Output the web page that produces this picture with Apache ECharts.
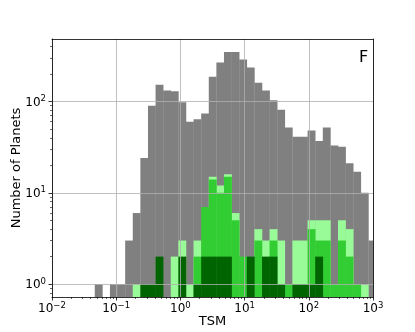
<!DOCTYPE html>
<html>
<head>
<meta charset="utf-8">
<script src="https://cdn.jsdelivr.net/npm/echarts@6/dist/echarts.min.js"></script>
<style>
  html, body { margin: 0; padding: 0; background: #fff; }
  #chart { width: 415px; height: 332px; }
</style>
</head>
<body>
<div id="chart"></div>
<script>
// histogram bins, log10 spaced
const binLogStart = -1.334
const binLogWidth = 0.1184

// counts per bin
const grayCounts  = [1, 0, 1, 1, 3, 6, 24, 90, 152, 132, 129, 98, 60, 64, 74, 186, 267, 349, 349, 288, 235, 160, 132, 103, 81, 52, 41, 41, 48, 37, 52, 33, 32, 21, 17, 10, 3]
const lightCounts = [0, 0, 0, 0, 0, 1, 0, 0, 0, 0, 2, 3, 1, 3, 0, 15, 12, 16, 6, 0, 0, 4, 3, 4, 3, 0, 3, 3, 5, 5, 5, 0, 5, 4, 0, 1, 0]
const limeCounts  = [0, 0, 0, 0, 0, 0, 0, 0, 0, 0, 0, 0, 0, 2, 7, 14, 10, 15, 5, 2, 0, 3, 0, 3, 0, 1, 0, 0, 4, 3, 3, 1, 3, 2, 1, 0, 0]
const darkCounts  = [0, 0, 0, 0, 0, 0, 1, 1, 2, 0, 0, 2, 0, 1, 2, 2, 2, 2, 0, 0, 2, 0, 2, 2, 1, 0, 1, 1, 1, 2, 0, 0, 0, 0, 0, 0, 0]

const xTicks = [0.01, 0.1, 1, 10, 100, 1000]
const yTicks = [1, 10, 100]
const xMin = 0.01, xMax = 1000
const yMin = 0.7225, yMax = 483

const binEdges = []
for (let k = 0; k <= grayCounts.length; k++) {
  binEdges.push(Math.pow(10, binLogStart + k * binLogWidth))
}

function minorTicks(lo, hi) {
  const out = []
  for (let e = -3; e <= 3; e++) {
    for (let m = 2; m <= 9; m++) {
      const v = m * Math.pow(10, e)
      if (v > lo && v < hi) out.push(v)
    }
  }
  return out
}

function powLabel(value) {
  const e = Math.round(Math.log10(value))
  if (Math.abs(Math.log10(value) - e) > 1e-6) return ''
  return '{b|10}{s|' + (e < 0 ? '\u2212' + (-e) : e) + '}'
}

const labelRich = {
  b: { fontSize: 12, lineHeight: 14, verticalAlign: 'bottom', color: '#000', fontFamily: 'DejaVu Sans' },
  s: { fontSize: 8.5, lineHeight: 8, verticalAlign: 'top', color: '#000', fontFamily: 'DejaVu Sans' }
}

function histSeries(name, counts, color, z) {
  const data = []
  counts.forEach((c, k) => {
    if (c > 0) data.push([binEdges[k], binEdges[k + 1], c])
  })
  return {
    name: name,
    type: 'custom',
    z: z,
    data: data,
    encode: { x: [0, 1], y: 2 },
    renderItem(params, api) {
      const cs = params.coordSys
      const top = api.coord([api.value(0), api.value(2)])
      const bottom = api.coord([api.value(1), yMin])
      const x0 = Math.max(top[0], cs.x)
      const x1 = Math.min(bottom[0] + 0.3, cs.x + cs.width)
      return {
        type: 'rect',
        shape: { x: x0, y: top[1], width: x1 - x0, height: bottom[1] - top[1] },
        style: { fill: color }
      }
    }
  }
}

const chart = echarts.init(document.getElementById('chart'))

chart.setOption({
  animation: false,
  textStyle: { fontFamily: 'DejaVu Sans' },
  grid: { left: 52, right: 42, top: 39, bottom: 35, outerBoundsMode: 'none' },
  graphic: [{
    type: 'text',
    left: 359,
    top: 50,
    style: { text: 'F', fontSize: 16, fill: '#000', fontFamily: 'DejaVu Sans' }
  }],
  xAxis: [{
    type: 'log', logBase: 10, min: xMin, max: xMax, z: 10,
    name: 'TSM', nameLocation: 'middle', nameGap: 18, nameMoveOverlap: false,
    nameTextStyle: { fontSize: 13, color: '#000', fontFamily: 'DejaVu Sans' },
    axisLine: { onZero: false, lineStyle: { color: '#000', width: 0.8 } },
    axisTick: { length: 3.5, lineStyle: { color: '#000', width: 0.8 }, customValues: xTicks },
    axisLabel: { margin: 4, formatter: powLabel, rich: labelRich, customValues: xTicks },
    splitLine: { show: true, lineStyle: { color: '#b0b0b0', width: 0.8 } }
  }, {
    type: 'log', logBase: 10, min: xMin, max: xMax, z: 10, position: 'bottom',
    axisLine: { show: false, onZero: false },
    axisTick: { length: 2, lineStyle: { color: '#000', width: 0.6 }, customValues: minorTicks(xMin, xMax) },
    axisLabel: { show: false },
    splitLine: { show: false }
  }, {
    type: 'log', logBase: 10, min: xMin, max: xMax, z: 12, position: 'top',
    axisLine: { onZero: false, lineStyle: { color: '#000', width: 0.8 } },
    axisTick: { show: false }, axisLabel: { show: false }, splitLine: { show: false }
  }],
  yAxis: [{
    type: 'log', logBase: 10, min: yMin, max: yMax, z: 11,
    name: 'Number of Planets', nameLocation: 'middle', nameGap: 29, nameRotate: 90, nameMoveOverlap: false,
    nameTextStyle: { fontSize: 13, color: '#000', fontFamily: 'DejaVu Sans' },
    axisLine: { show: true, onZero: false, lineStyle: { color: '#000', width: 0.8 } },
    axisTick: { show: true, length: 3.5, lineStyle: { color: '#000', width: 0.8 }, customValues: yTicks },
    axisLabel: { margin: 6, formatter: powLabel, rich: labelRich, customValues: yTicks },
    splitLine: { show: true, lineStyle: { color: '#b0b0b0', width: 0.8 } }
  }, {
    type: 'log', logBase: 10, min: yMin, max: yMax, z: 11, position: 'left',
    axisLine: { show: false, onZero: false },
    axisTick: { show: true, length: 2, lineStyle: { color: '#000', width: 0.6 }, customValues: minorTicks(yMin, yMax) },
    axisLabel: { show: false },
    splitLine: { show: false }
  }, {
    type: 'log', logBase: 10, min: yMin, max: yMax, z: 12, position: 'right',
    axisLine: { show: true, onZero: false, lineStyle: { color: '#000', width: 0.8 } },
    axisTick: { show: false }, axisLabel: { show: false }, splitLine: { show: false }
  }],
  series: [
    histSeries('all', grayCounts, '#808080', 2),
    histSeries('light', lightCounts, '#98fb98', 3),
    histSeries('lime', limeCounts, '#32cd32', 4),
    histSeries('dark', darkCounts, '#006400', 5)
  ]
})
</script>
</body>
</html>
